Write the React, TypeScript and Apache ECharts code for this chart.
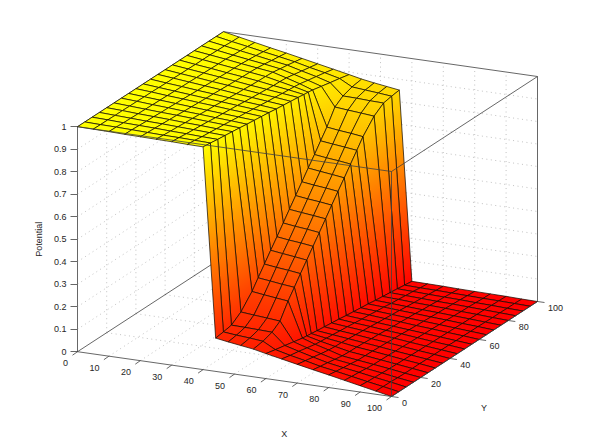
import React, { useEffect, useRef } from "react";
import * as echarts from "echarts";

const xNodes = [0, 5, 10, 15, 20, 25, 30, 35, 40, 44, 48, 52, 56, 60, 65, 70, 75, 80, 85, 90, 95, 100];
const yNodes = [0, 5, 10, 15, 20, 25, 30, 35, 40, 45, 50, 55, 60, 65, 70, 75, 80, 85, 90, 95, 100];

const yAtX30 = [0, 5, 10, 15, 20, 25, 30, 35, 40, 45, 50, 55, 60, 65, 69.7, 74.1, 78.5, 83.8, 89.1, 94.5, 100];
const yAtX35 = [0, 5, 10, 15, 20, 25, 30, 35, 40, 45, 50, 55, 60, 65, 69.4, 73.2, 77, 82.6, 88.2, 94.1, 100];
const yAtX40 = [0, 5, 10, 15, 20, 25, 30, 35, 40, 45, 50, 55, 60, 65, 69, 72, 75, 81, 87, 93.5, 100];
const yAtX44 = [0, 5.3, 10.8, 17.3, 24.9, 29.1, 33.4, 37.7, 42, 46.3, 50.5, 54.8, 59.1, 63.4, 67.7, 71.9, 76.2, 81.7, 87.2, 93.4, 100];
const yAtX48 = [0, 5.7, 11.5, 17.6, 24.5, 28.8, 33, 37.3, 41.6, 45.9, 50.2, 54.4, 58.7, 63, 67.3, 71.6, 75.8, 82, 87.9, 93.9, 100];
const yAtX52 = [0, 6.2, 12.1, 18, 24.2, 28.4, 32.7, 37, 41.3, 45.6, 49.8, 54.1, 58.4, 62.7, 67, 71.2, 75.5, 82.4, 88.5, 94.3, 100];
const yAtX56 = [0, 6.6, 12.8, 18.3, 23.8, 28.1, 32.3, 36.6, 40.9, 45.2, 49.5, 53.7, 58, 62.3, 66.6, 70.9, 75.1, 82.7, 89.2, 94.7, 100];
const yAtX60 = [0, 6.5, 13, 19, 25, 28, 31, 35, 40, 45, 50, 55, 60, 65, 70, 75, 80, 85, 90, 95, 100];
const yAtX65 = [0, 5.9, 11.8, 17.4, 23, 26.8, 30.6, 35, 40, 45, 50, 55, 60, 65, 70, 75, 80, 85, 90, 95, 100];
const yAtX70 = [0, 5.5, 10.9, 16.2, 21.5, 25.9, 30.3, 35, 40, 45, 50, 55, 60, 65, 70, 75, 80, 85, 90, 95, 100];

// One row per y node, one value per x node.
const potentialRows = [
  [1, .999, .998, .996, .995, .994, .993, .991, .99, .148, .139, .131, .123, .111, .097, .083, .069, .056, .042, .028, .014, 0],
  [1, .998, .997, .995, .993, .991, .99, .988, .986, .153, .145, .138, .13, .101, .088, .076, .063, .051, .038, .025, .013, 0],
  [1, .998, .995, .993, .991, .988, .986, .983, .981, .16, .155, .15, .144, .092, .081, .069, .058, .046, .035, .023, .012, 0],
  [1, .997, .994, .991, .989, .986, .983, .98, .977, .191, .184, .177, .17, .083, .073, .062, .052, .042, .031, .021, .01, 0],
  [1, .997, .993, .99, .987, .983, .98, .976, .973, .25, .245, .24, .236, .074, .065, .056, .046, .037, .028, .019, .009, 0],
  [1, .996, .992, .988, .985, .981, .977, .973, .969, .293, .288, .283, .279, .071, .062, .053, .044, .036, .027, .018, .009, 0],
  [1, .996, .991, .987, .982, .978, .973, .969, .964, .336, .331, .327, .322, .069, .06, .052, .043, .035, .026, .017, .009, 0],
  [1, .995, .99, .985, .98, .975, .97, .965, .96, .379, .374, .369, .364, .065, .057, .049, .041, .033, .024, .016, .008, 0],
  [1, .995, .989, .984, .978, .973, .967, .962, .956, .421, .416, .412, .407, .061, .053, .046, .038, .031, .023, .015, .008, 0],
  [1, .994, .988, .982, .976, .97, .964, .958, .952, .464, .459, .455, .45, .057, .05, .043, .036, .029, .021, .014, .007, 0],
  [1, .993, .987, .98, .974, .967, .96, .954, .947, .507, .502, .498, .493, .053, .046, .04, .033, .027, .02, .013, .007, 0],
  [1, .993, .986, .979, .972, .964, .957, .95, .943, .55, .545, .541, .536, .048, .042, .036, .03, .024, .018, .012, .006, 0],
  [1, .992, .985, .977, .97, .962, .954, .947, .939, .593, .588, .584, .579, .044, .039, .033, .028, .022, .017, .011, .006, 0],
  [1, .992, .984, .976, .968, .959, .951, .943, .935, .636, .631, .626, .621, .04, .035, .03, .025, .02, .015, .01, .005, 0],
  [1, .991, .983, .974, .966, .957, .948, .94, .931, .678, .673, .669, .664, .036, .032, .027, .023, .018, .014, .009, .005, 0],
  [1, .991, .982, .973, .965, .956, .947, .938, .929, .721, .716, .712, .707, .031, .027, .023, .019, .016, .012, .008, .004, 0],
  [1, .991, .982, .972, .963, .954, .945, .935, .926, .764, .759, .755, .75, .027, .024, .02, .017, .014, .01, .007, .003, 0],
  [1, .99, .979, .969, .959, .948, .938, .927, .917, .83, .823, .816, .809, .023, .02, .017, .014, .012, .009, .006, .003, 0],
  [1, .989, .977, .966, .954, .943, .931, .92, .908, .856, .851, .845, .84, .019, .017, .014, .012, .01, .007, .005, .002, 0],
  [1, .987, .975, .962, .95, .937, .924, .912, .899, .87, .862, .855, .847, .014, .012, .011, .009, .007, .005, .004, .002, 0],
  [1, .986, .972, .958, .945, .931, .917, .903, .889, .877, .868, .86, .852, .01, .009, .008, .006, .005, .004, .003, .001, 0],
];

const xTicks = [0, 10, 20, 30, 40, 50, 60, 70, 80, 90, 100];
const yTicks = [0, 20, 40, 60, 80, 100];
const zGridTicks = [0.1, 0.2, 0.3, 0.4, 0.5, 0.6, 0.7, 0.8, 0.9];

const FONT = "'Liberation Sans', Arial, sans-serif";
const TEXT = "#262626";
const BOX = "#404040";

const columnY: Record<number, number[]> = {
  6: yAtX30, 7: yAtX35, 8: yAtX40, 9: yAtX44, 10: yAtX48, 11: yAtX52,
  12: yAtX56, 13: yAtX60, 14: yAtX65, 15: yAtX70,
};

// Orthographic view of the data box onto the axes of the hidden cartesian grid.
const project = (x: number, y: number, z: number): number[] => [
  3.14 * x + 1.46 * y,
  z - (0.448 * x - 0.95 * y) / 225,
];

const nodeOf = (i: number, j: number) => ({
  x: xNodes[i],
  y: (columnY[i] || yNodes)[j],
  z: potentialRows[j][i],
});

const autumn = (z: number) => `rgb(255,${Math.round(255 * Math.max(0, Math.min(1, z)))},0)`;

type Seg = number[];

const gridSegments: Seg[] = [];
zGridTicks.forEach((z) => {
  gridSegments.push([0, 0, z, 0, 100, z]);
  gridSegments.push([0, 100, z, 100, 100, z]);
});
yTicks.slice(1, -1).forEach((y) => {
  gridSegments.push([0, y, 0, 0, y, 1]);
  gridSegments.push([0, y, 0, 100, y, 0]);
});
xTicks.slice(1, -1).forEach((x) => {
  gridSegments.push([x, 100, 0, x, 100, 1]);
  gridSegments.push([x, 0, 0, x, 100, 0]);
});

const backBox: Seg[] = [
  [0, 0, 0, 0, 100, 0],
  [0, 100, 1, 100, 100, 1],
  [0, 0, 1, 0, 100, 1],
  [100, 100, 0, 100, 100, 1],
];
const frontBox: Seg[] = [
  [0, 0, 1, 100, 0, 1],
  [100, 0, 1, 100, 100, 1],
  [100, 0, 1, 100, 0, 0],
  [0, 0, 0, 100, 0, 0],
  [100, 0, 0, 100, 100, 0],
];

const cells: number[][] = [];
for (let i = 0; i < xNodes.length - 1; i++) {
  for (let j = yNodes.length - 2; j >= 0; j--) cells.push([i, j]);
}

function segmentSeries(data: Seg[], z: number, stroke: string, lineWidth: number, lineDash?: number[]) {
  return {
    type: "custom",
    coordinateSystem: "cartesian2d",
    clip: false,
    silent: true,
    z,
    data: data.map((_, k) => [k, 0]),
    renderItem: (params: any, api: any) => {
      const s = data[params.dataIndex];
      const a = api.coord(project(s[0], s[1], s[2]));
      const b = api.coord(project(s[3], s[4], s[5]));
      return {
        type: "line",
        shape: { x1: a[0], y1: a[1], x2: b[0], y2: b[1] },
        style: { stroke, lineWidth, lineDash, fill: null },
      };
    },
  };
}

const surfaceSeries = {
  type: "custom",
  coordinateSystem: "cartesian2d",
  clip: false,
  silent: true,
  z: 4,
  data: cells,
  renderItem: (params: any, api: any) => {
    const [i, j] = cells[params.dataIndex];
    const nodes = [nodeOf(i, j), nodeOf(i + 1, j), nodeOf(i + 1, j + 1), nodeOf(i, j + 1)];
    const pts = nodes.map((n) => api.coord(project(n.x, n.y, n.z)));
    const zs = nodes.map((n) => n.z);
    const lo = Math.min(...zs);
    const hi = Math.max(...zs);
    let fill: any = autumn((lo + hi) / 2);
    if (hi - lo > 0.002) {
      const d1 = [pts[2][0] - pts[0][0], pts[2][1] - pts[0][1], zs[2] - zs[0]];
      const d2 = [pts[3][0] - pts[1][0], pts[3][1] - pts[1][1], zs[3] - zs[1]];
      const det = d1[0] * d2[1] - d1[1] * d2[0];
      let gx = 0;
      let gy = 1;
      if (Math.abs(det) > 1e-6) {
        gx = (d1[2] * d2[1] - d1[1] * d2[2]) / det;
        gy = (d1[0] * d2[2] - d1[2] * d2[0]) / det;
      }
      const g2 = gx * gx + gy * gy;
      const cx = (pts[0][0] + pts[1][0] + pts[2][0] + pts[3][0]) / 4;
      const cy = (pts[0][1] + pts[1][1] + pts[2][1] + pts[3][1]) / 4;
      const zc = (zs[0] + zs[1] + zs[2] + zs[3]) / 4;
      const at = (z: number) => [cx + (gx * (z - zc)) / g2, cy + (gy * (z - zc)) / g2];
      const p0 = at(lo);
      const p1 = at(hi);
      fill = new echarts.graphic.LinearGradient(
        p0[0], p0[1], p1[0], p1[1],
        [{ offset: 0, color: autumn(lo) }, { offset: 1, color: autumn(hi) }],
        true
      );
    }
    return {
      type: "polygon",
      shape: { points: pts },
      style: { fill, stroke: "rgba(15,8,0,0.9)", lineWidth: 0.8, lineJoin: "round" },
    };
  },
};

const tickItems = [
  ...xTicks.map((t) => ({ p: [t, 0, 0], dx: -5, dy: 3.5 })),
  ...yTicks.map((t) => ({ p: [100, t, 0], dx: 7, dy: 1 })),
];
const tickSeries = {
  type: "custom",
  coordinateSystem: "cartesian2d",
  clip: false,
  silent: true,
  z: 6,
  data: tickItems.map((_, k) => [k, 0]),
  renderItem: (params: any, api: any) => {
    const t = tickItems[params.dataIndex];
    const a = api.coord(project(t.p[0], t.p[1], t.p[2]));
    return {
      type: "line",
      shape: { x1: a[0], y1: a[1], x2: a[0] + t.dx, y2: a[1] + t.dy },
      style: { stroke: BOX, lineWidth: 0.8, fill: null },
    };
  },
};

const labelItems = [
  ...xTicks.map((t) => ({ text: String(t), p: [t, 0, 0], dx: -9.4, dy: 11.6, align: "right" })),
  ...yTicks.map((t) => ({ text: String(t), p: [100, t, 0], dx: 10.4, dy: 6.8, align: "left" })),
  { text: "X", p: [100, 0, 0], dx: -107.2, dy: 37.8, align: "center" },
  { text: "Y", p: [100, 0, 0], dx: 92.5, dy: 11.5, align: "center" },
];
const labelSeries = {
  type: "custom",
  coordinateSystem: "cartesian2d",
  clip: false,
  silent: true,
  z: 7,
  data: labelItems.map((_, k) => [k, 0]),
  renderItem: (params: any, api: any) => {
    const l = labelItems[params.dataIndex];
    const a = api.coord(project(l.p[0], l.p[1], l.p[2]));
    return {
      type: "text",
      x: a[0] + l.dx,
      y: a[1] + l.dy,
      style: {
        text: l.text,
        fontSize: 9,
        fontFamily: FONT,
        fill: TEXT,
        align: l.align,
        verticalAlign: "middle",
        textAlign: l.align,
        textVerticalAlign: "middle",
      },
    };
  },
};

export default function App() {
  const ref = useRef<HTMLDivElement>(null);
  useEffect(() => {
    const chart = echarts.init(ref.current!, undefined, { renderer: "svg" });
    chart.setOption({
      animation: false,
      backgroundColor: "#ffffff",
      grid: { left: 77.5, top: 126.7, width: 460, height: 225, containLabel: false },
      xAxis: { type: "value", min: 0, max: 460, show: false },
      yAxis: {
        type: "value",
        min: 0,
        max: 1,
        interval: 0.1,
        name: "Potential",
        nameLocation: "middle",
        nameGap: 27,
        nameRotate: 90,
        nameTextStyle: { fontSize: 9, fontFamily: FONT, color: TEXT },
        axisLine: { show: true, lineStyle: { color: BOX, width: 0.8 } },
        axisTick: { show: true, length: 7, lineStyle: { color: BOX, width: 0.8 } },
        axisLabel: { fontSize: 9, fontFamily: FONT, color: TEXT, margin: 11 },
        splitLine: { show: false },
      },
      series: [
        segmentSeries(gridSegments, 2, "#a8a8a8", 0.7, [1, 3.5]),
        segmentSeries(backBox, 3, BOX, 0.8),
        surfaceSeries,
        segmentSeries(frontBox, 5, BOX, 0.8),
        tickSeries,
        labelSeries,
      ],
    });
    return () => chart.dispose();
  }, []);
  return <div ref={ref} style={{ position: "fixed", left: 0, top: 0, width: 594, height: 446 }} />;
}
